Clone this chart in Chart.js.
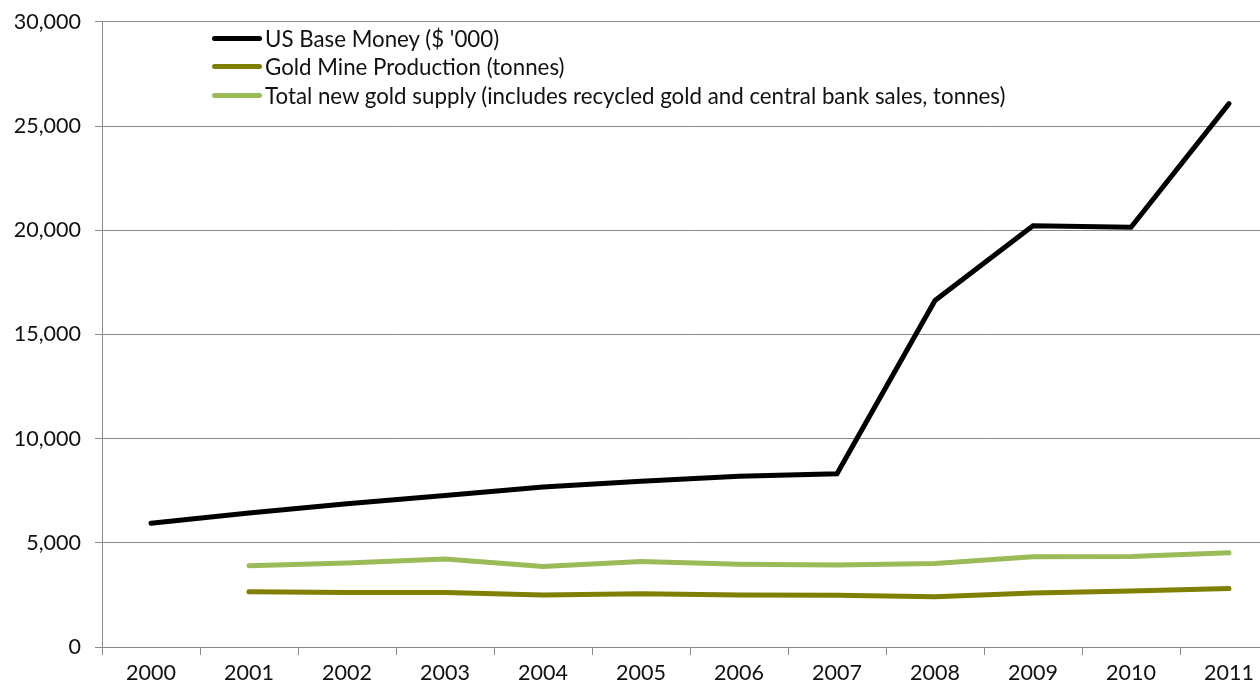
<!DOCTYPE html>
<html>
<head>
<meta charset="utf-8">
<script src="https://cdn.jsdelivr.net/npm/chart.js@4/dist/chart.umd.min.js"></script>
<style>
    html, body { margin: 0; padding: 0; background: #fff; overflow: hidden; }
    #wrap { position: relative; width: 1290px; height: 691px; overflow: hidden; }
    #chart { display: block; margin-top: -5px; }
    #legend { position: absolute; left: 212px; top: 24px; font-family: Lato, "Open Sans", sans-serif; font-size: 22.3px; color: #111; }
    .lg-row { display: flex; align-items: center; height: 28.5px; }
    .lg-line { width: 50px; height: 5px; border-radius: 3px; margin-right: 3px; }
</style>
</head>
<body>
<div id="wrap">
    <canvas id="chart" width="1290" height="696"></canvas>
    <div id="legend"></div>
</div>
<script>
// ── Data ─────────────────────────────────────────────────────
const years = ["2000", "2001", "2002", "2003", "2004", "2005", "2006", "2007", "2008", "2009", "2010", "2011"];
const baseMoney = [5940, 6430, 6870, 7270, 7680, 7950, 8200, 8310, 16630, 20220, 20140, 26080];
const mineProduction = [null, 2650, 2620, 2620, 2500, 2550, 2490, 2480, 2410, 2590, 2690, 2810];
const totalSupply = [null, 3900, 4030, 4220, 3860, 4100, 3970, 3930, 4010, 4330, 4340, 4520];
const seriesNames = [
    "US Base Money ($ '000)",
    "Gold Mine Production (tonnes)",
    "Total new gold supply (includes recycled gold and central bank sales, tonnes)"
];
const seriesColors = ["#000000", "#7f7f00", "#9bbb59"];

const gridColor = "#8a8a8a";
const tickFont = { family: "Lato, 'Open Sans', sans-serif", size: 21.5 };

const mkSet = (i, data) => ({
    label: seriesNames[i],
    data,
    borderColor: seriesColors[i],
    backgroundColor: seriesColors[i],
    borderWidth: 5,
    borderCapStyle: "round",
    borderJoinStyle: "miter",
    pointRadius: 0,
    tension: 0,
    fill: false,
});

const chart = new Chart(document.getElementById("chart"), {
    type: "line",
    data: {
        labels: years,
        datasets: [
            mkSet(0, baseMoney),
            mkSet(1, mineProduction),
            mkSet(2, totalSupply),
        ]
    },
    options: {
        responsive: false,
        animation: false,
        layout: { padding: { top: 12, right: 12, left: 0, bottom: 0 } },
        plugins: { legend: { display: false }, tooltip: { enabled: false } },
        scales: {
            x: {
                offset: true,
                grid: { offset: true, drawOnChartArea: false, drawTicks: true, tickLength: 8, color: gridColor },
                border: { color: gridColor, width: 1 },
                ticks: { color: "#111", font: tickFont, padding: 5, maxRotation: 0 },
                afterFit: s => { s.height = 44; }
            },
            y: {
                min: 0,
                max: 30000,
                grid: { color: gridColor, tickLength: 7, lineWidth: 1 },
                border: { color: gridColor, width: 1 },
                ticks: {
                    stepSize: 5000,
                    color: "#111",
                    font: tickFont,
                    padding: 14,
                    callback: v => v.toLocaleString("en-US")
                },
                afterFit: s => { s.width = 102; }
            }
        }
    }
});

// ── Legend ───────────────────────────────────────────────────
const legend = document.getElementById("legend");
seriesNames.forEach((name, i) => {
    const row = document.createElement("div");
    row.className = "lg-row";
    row.innerHTML = `<span class="lg-line" style="background:${seriesColors[i]}"></span><span>${name}</span>`;
    legend.appendChild(row);
});
</script>
</body>
</html>
